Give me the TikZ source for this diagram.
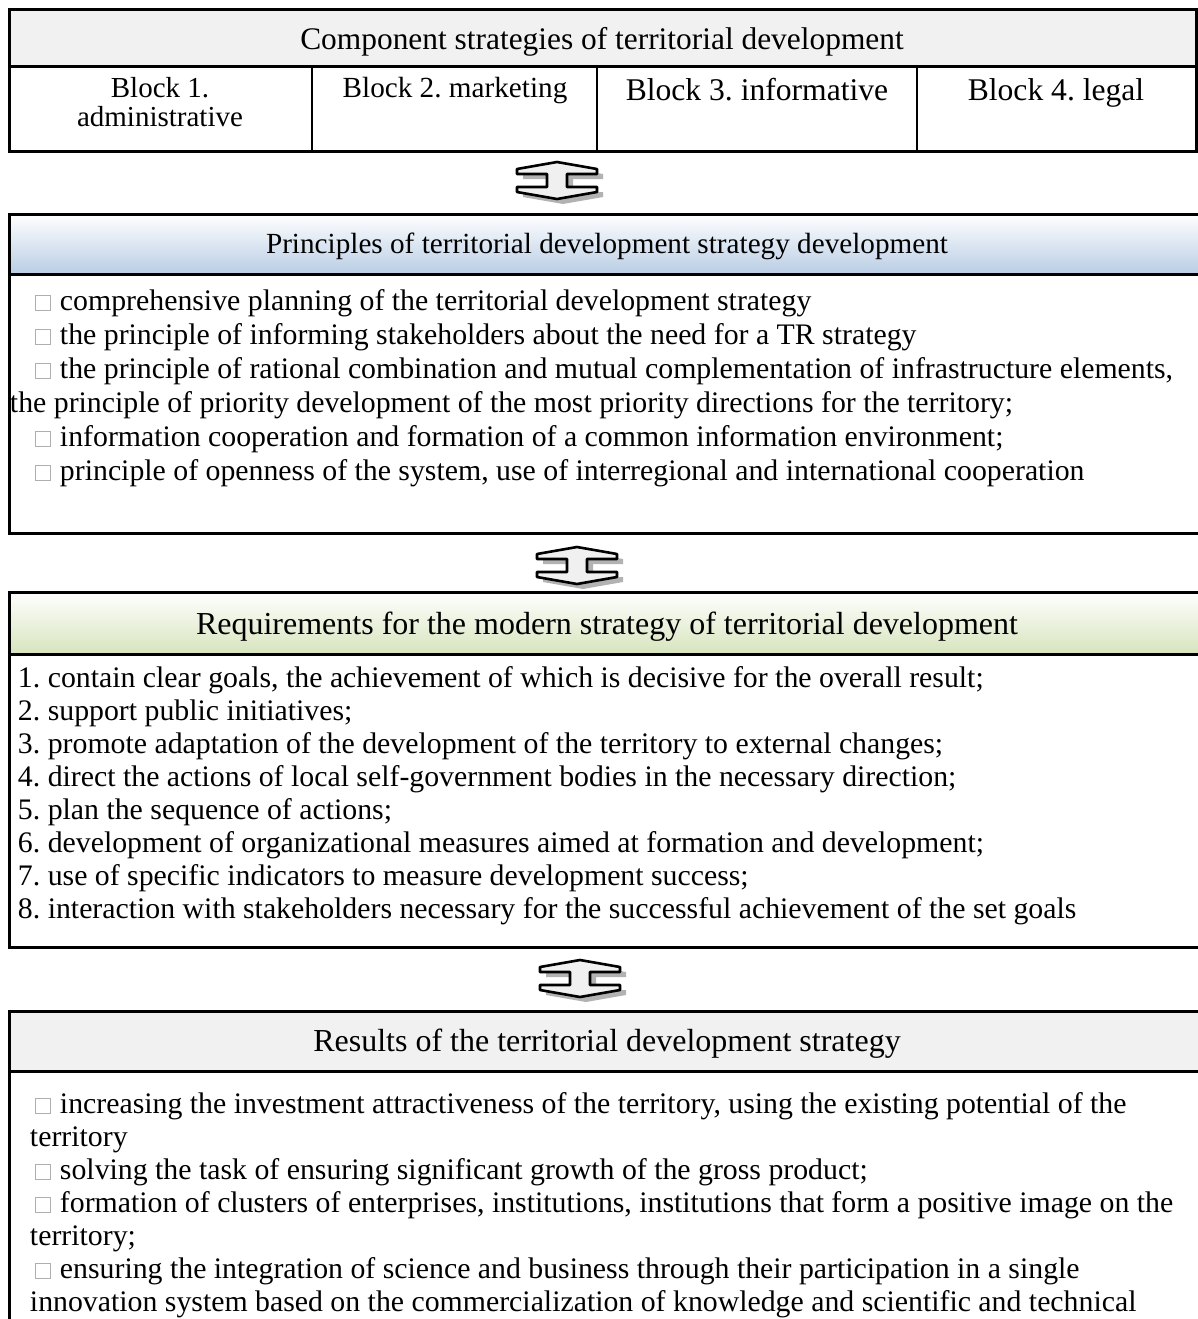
\documentclass[tikz,border=0pt]{standalone}
\usepackage{fontspec}
\setmainfont{Liberation Serif}
\frenchspacing
\definecolor{hdrgray}{RGB}{241,241,241}
\definecolor{hdrblue}{RGB}{185,205,229}
\definecolor{hdrgreen}{RGB}{215,228,189}
\definecolor{bulgray}{RGB}{175,175,175}
\newcommand\sqbul{{\color{bulgray}\fboxsep0pt\fboxrule0.5pt\fbox{\rule{0pt}{7.2pt}\hspace{7pt}}}\hspace{4.5pt}}
\newcommand\fsz[2]{\fontsize{#1}{#2}\selectfont}
\begin{document}
\begin{tikzpicture}[x=0.5pt,y=-0.5pt,
  frame/.style={draw=black,line width=1.5pt},
  cell/.style={draw=black,line width=1.1pt},
  txt/.style={inner sep=0pt,outer sep=0pt},
  bodyline/.style={txt,anchor=base west,font=\fsz{14.9}{16.6}},
  headtxt/.style={txt,anchor=base,font=\fsz{16}{18}},
  udarrow/.pic={
    \fill[black!30] (6,-14) -- (46,-7) -- (46,-2) -- (16,-2) -- (16,11) -- (46,11) -- (46,16) -- (6,23) -- (-34,16) -- (-34,11) -- (-4,11) -- (-4,-2) -- (-34,-2) -- (-34,-7) -- cycle;
    \filldraw[fill=black!6,draw=black,line width=1.3pt,line join=round]
      (0,-19) -- (40,-12) -- (40,-7) -- (10,-7) -- (10,6) -- (40,6) -- (40,11) -- (0,18) -- (-40,11) -- (-40,6) -- (-10,6) -- (-10,-7) -- (-40,-7) -- (-40,-12) -- cycle;
  }
]
\useasboundingbox (0,0) rectangle (1198,1319);
\clip (0,0) rectangle (1198,1319);

% ---------- top box ----------
\fill[hdrgray] (9,9) rectangle (1196,66);
\draw[cell] (312,66) -- (312,151);
\draw[cell] (597,66) -- (597,151);
\draw[cell] (917,66) -- (917,151);
\draw[frame] (9,66) -- (1196,66);
\draw[frame] (9,9) rectangle (1196,151);
\node[headtxt,font=\fsz{15.7}{18}] (title) at (602,49) {Component strategies of territorial development};
\node[txt,anchor=base,font=\fsz{14.5}{14}] (b1a) at (160,97) {Block 1.};
\node[txt,anchor=base,font=\fsz{14.5}{14}] (b1b) at (160,126) {administrative};
\node[txt,anchor=base,font=\fsz{14.6}{16}] (b2) at (455,97) {Block 2. marketing};
\node[txt,anchor=base,font=\fsz{15.8}{18}] (b3) at (757,100) {Block 3. informative};
\node[txt,anchor=base,font=\fsz{15.8}{18}] (b4) at (1056,100) {Block 4. legal};

\pic (a1) at (557,181) {udarrow};

% ---------- principles ----------
\shade[top color=white,bottom color=hdrblue] (9,214) rectangle (1210,274);
\draw[frame] (9,274) -- (1210,274);
\draw[frame] (9,214) rectangle (1210,533);
\node[headtxt,font=\fsz{14.6}{17}] (ph) at (607,253) {Principles of territorial development strategy development};
\node[bodyline] (p1) at (35,310) {\sqbul comprehensive planning of the territorial development strategy};
\node[bodyline] (p2) at (35,344) {\sqbul the principle of informing stakeholders about the need for a TR strategy};
\node[bodyline] (p3) at (35,378) {\sqbul the principle of rational combination and mutual complementation of infrastructure elements,};
\node[bodyline] (p4) at (10,412) {the principle of priority development of the most priority directions for the territory;};
\node[bodyline] (p5) at (35,446) {\sqbul information cooperation and formation of a common information environment;};
\node[bodyline] (p6) at (35,480) {\sqbul principle of openness of the system, use of interregional and international cooperation};

\pic (a2) at (577,566) {udarrow};

% ---------- requirements ----------
\shade[top color=white,bottom color=hdrgreen] (9,592) rectangle (1210,654);
\draw[frame] (9,654) -- (1210,654);
\draw[frame] (9,592) rectangle (1210,947);
\node[headtxt] (rh) at (607,634) {Requirements for the modern strategy of territorial development};
\node[bodyline] (r1) at (18,687) {1. contain clear goals, the achievement of which is decisive for the overall result;};
\node[bodyline] (r2) at (18,720) {2. support public initiatives;};
\node[bodyline] (r3) at (18,753) {3. promote adaptation of the development of the territory to external changes;};
\node[bodyline] (r4) at (18,786) {4. direct the actions of local self-government bodies in the necessary direction;};
\node[bodyline] (r5) at (18,819) {5. plan the sequence of actions;};
\node[bodyline] (r6) at (18,852) {6. development of organizational measures aimed at formation and development;};
\node[bodyline] (r7) at (18,885) {7. use of specific indicators to measure development success;};
\node[bodyline] (r8) at (18,918) {8. interaction with stakeholders necessary for the successful achievement of the set goals};

\pic (a3) at (580,979) {udarrow};

% ---------- results ----------
\fill[hdrgray] (9,1011) rectangle (1210,1071);
\draw[frame] (9,1071) -- (1210,1071);
\draw[frame] (9,1340) -- (9,1011) -- (1210,1011);
\node[headtxt] (sh) at (607,1051) {Results of the territorial development strategy};
\node[bodyline] (s1) at (35,1113) {\sqbul increasing the investment attractiveness of the territory, using the existing potential of the};
\node[bodyline] (s2) at (30,1146) {territory};
\node[bodyline] (s3) at (35,1179) {\sqbul solving the task of ensuring significant growth of the gross product;};
\node[bodyline] (s4) at (35,1212) {\sqbul formation of clusters of enterprises, institutions, institutions that form a positive image on the};
\node[bodyline] (s5) at (30,1245) {territory;};
\node[bodyline] (s6) at (35,1278) {\sqbul ensuring the integration of science and business through their participation in a single};
\node[bodyline] (s7) at (30,1311) {innovation system based on the commercialization of knowledge and scientific and technical};
\end{tikzpicture}
\end{document}
